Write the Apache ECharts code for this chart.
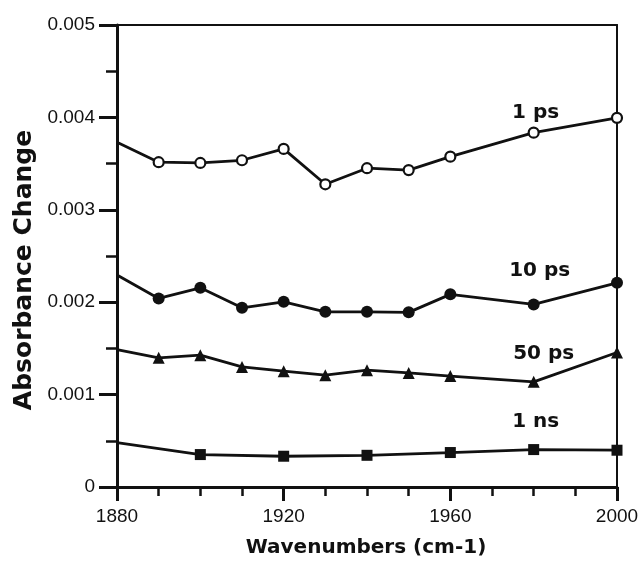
<!DOCTYPE html>
<html>
<head>
<meta charset="utf-8">
<script src="https://cdn.jsdelivr.net/npm/echarts@6/dist/echarts.min.js"></script>
<style>
  html, body { margin: 0; padding: 0; background: #fff; }
  #chart { width: 643px; height: 561px; }
</style>
</head>
<body>
<div id="chart"></div>
<script>
// Wavenumber positions (cm-1) and absorbance change for each delay time
const wavenumbers = [1880, 1890, 1900, 1910, 1920, 1930, 1940, 1950, 1960, 1980, 2000];
const ps1  = [0.00373, 0.003515, 0.003507, 0.003536, 0.003659, 0.003276, 0.00345, 0.00343, 0.003575, 0.003835, 0.003995];
const ps10 = [0.002294, 0.002041, 0.002156, 0.001939, 0.002004, 0.001896, 0.001896, 0.00189, 0.002085, 0.001976, 0.00221];
const ps50 = [0.001488, 0.001398, 0.001427, 0.0013, 0.001254, 0.00121, 0.001264, 0.001235, 0.0012, 0.001138, 0.001456];
const nsWavenumbers = [1880, 1900, 1920, 1940, 1960, 1980, 2000];
const ns1  = [0.000481, 0.000351, 0.000333, 0.000343, 0.000373, 0.000405, 0.000398];

const seriesNames = ['1 ps', '10 ps', '50 ps', '1 ns'];
const xTicks = [1880, 1920, 1960, 2000];
const yTicks = ['0', '0.001', '0.002', '0.003', '0.004', '0.005'];
const xTitle = 'Wavenumbers (cm-1)';
const yTitle = 'Absorbance Change';

const INK = '#111';
const labelFont = { fontFamily: 'DejaVu Sans', fontWeight: 'bold', fontSize: 20, color: INK };

// Builds line points; the first point sits on the axis without a marker,
// the point at labelX carries the series name.
function buildData(xs, ys, name, labelX, offset) {
  return xs.map((x, i) => {
    const item = { value: [x, ys[i]] };
    if (i === 0) item.symbol = 'none';
    if (x === labelX) {
      item.label = {
        show: true, position: 'inside', offset: offset,
        formatter: name, ...labelFont
      };
    }
    return item;
  });
}

function lineSeries(name, data, symbol, size, filled) {
  return {
    name: name,
    type: 'line',
    data: data,
    symbol: symbol,
    symbolSize: size,
    showAllSymbol: true,
    lineStyle: { color: INK, width: 2.8 },
    itemStyle: {
      color: filled ? INK : '#fff',
      borderColor: INK,
      borderWidth: filled ? 0 : 2.2
    },
    z: 3
  };
}

const chart = echarts.init(document.getElementById('chart'));
chart.setOption({
  animation: false,
  backgroundColor: '#fff',
  grid: { left: 117, right: 26, top: 25, bottom: 74, containLabel: false },
  graphic: [
    {
      type: 'text', x: 366, y: 548,
      style: {
        text: xTitle, x: 0, y: 0, align: 'center', verticalAlign: 'middle',
        font: 'bold 20px "DejaVu Sans"', fill: INK
      }
    },
    {
      type: 'text', x: 24, y: 270, rotation: Math.PI / 2,
      style: {
        text: yTitle, x: 0, y: 0, align: 'center', verticalAlign: 'middle',
        font: 'bold 25px "DejaVu Sans"', fill: INK
      }
    }
  ],
  xAxis: [{
    type: 'value',
    min: 1880, max: 2000, interval: 40,
    axisLine: { lineStyle: { color: INK, width: 3 } },
    axisTick: { show: true, inside: false, length: 14, lineStyle: { color: INK, width: 3 } },
    minorTick: { show: true, splitNumber: 4, length: 9, lineStyle: { color: INK, width: 2.5 } },
    splitLine: { show: false },
    axisLabel: {
      margin: 20, fontFamily: 'Liberation Sans', fontSize: 19, color: INK,
      formatter: v => String(xTicks[xTicks.indexOf(v)])
    }
  }, {
    type: 'value', position: 'top',
    min: 1880, max: 2000,
    axisLine: { show: true, onZero: false, lineStyle: { color: INK, width: 2 } },
    axisTick: { show: false }, axisLabel: { show: false }, splitLine: { show: false }
  }],
  yAxis: [{
    type: 'value',
    min: 0, max: 0.005, interval: 0.001,
    axisLine: { show: true, lineStyle: { color: INK, width: 3 } },
    axisTick: { show: true, inside: false, length: 18, lineStyle: { color: INK, width: 3 } },
    minorTick: { show: true, splitNumber: 2, length: 11, lineStyle: { color: INK, width: 2.5 } },
    splitLine: { show: false },
    axisLabel: {
      margin: 22, fontFamily: 'Liberation Sans', fontSize: 19, color: INK,
      formatter: v => yTicks[Math.round(v / 0.001)]
    }
  }, {
    type: 'value', position: 'right',
    min: 0, max: 0.005,
    axisLine: { show: true, onZero: false, lineStyle: { color: INK, width: 2 } },
    axisTick: { show: false }, axisLabel: { show: false }, splitLine: { show: false }
  }],
  series: [
    lineSeries(seriesNames[0], buildData(wavenumbers, ps1, seriesNames[0], 1980, [2, -20]), 'circle', 10, false),
    lineSeries(seriesNames[1], buildData(wavenumbers, ps10, seriesNames[1], 1980, [6, -34]), 'circle', 12, true),
    lineSeries(seriesNames[2], buildData(wavenumbers, ps50, seriesNames[2], 1980, [10, -28]), 'triangle', 12, true),
    lineSeries(seriesNames[3], buildData(nsWavenumbers, ns1, seriesNames[3], 1980, [2, -28]), 'rect', 11, true)
  ]
});
</script>
</body>
</html>
